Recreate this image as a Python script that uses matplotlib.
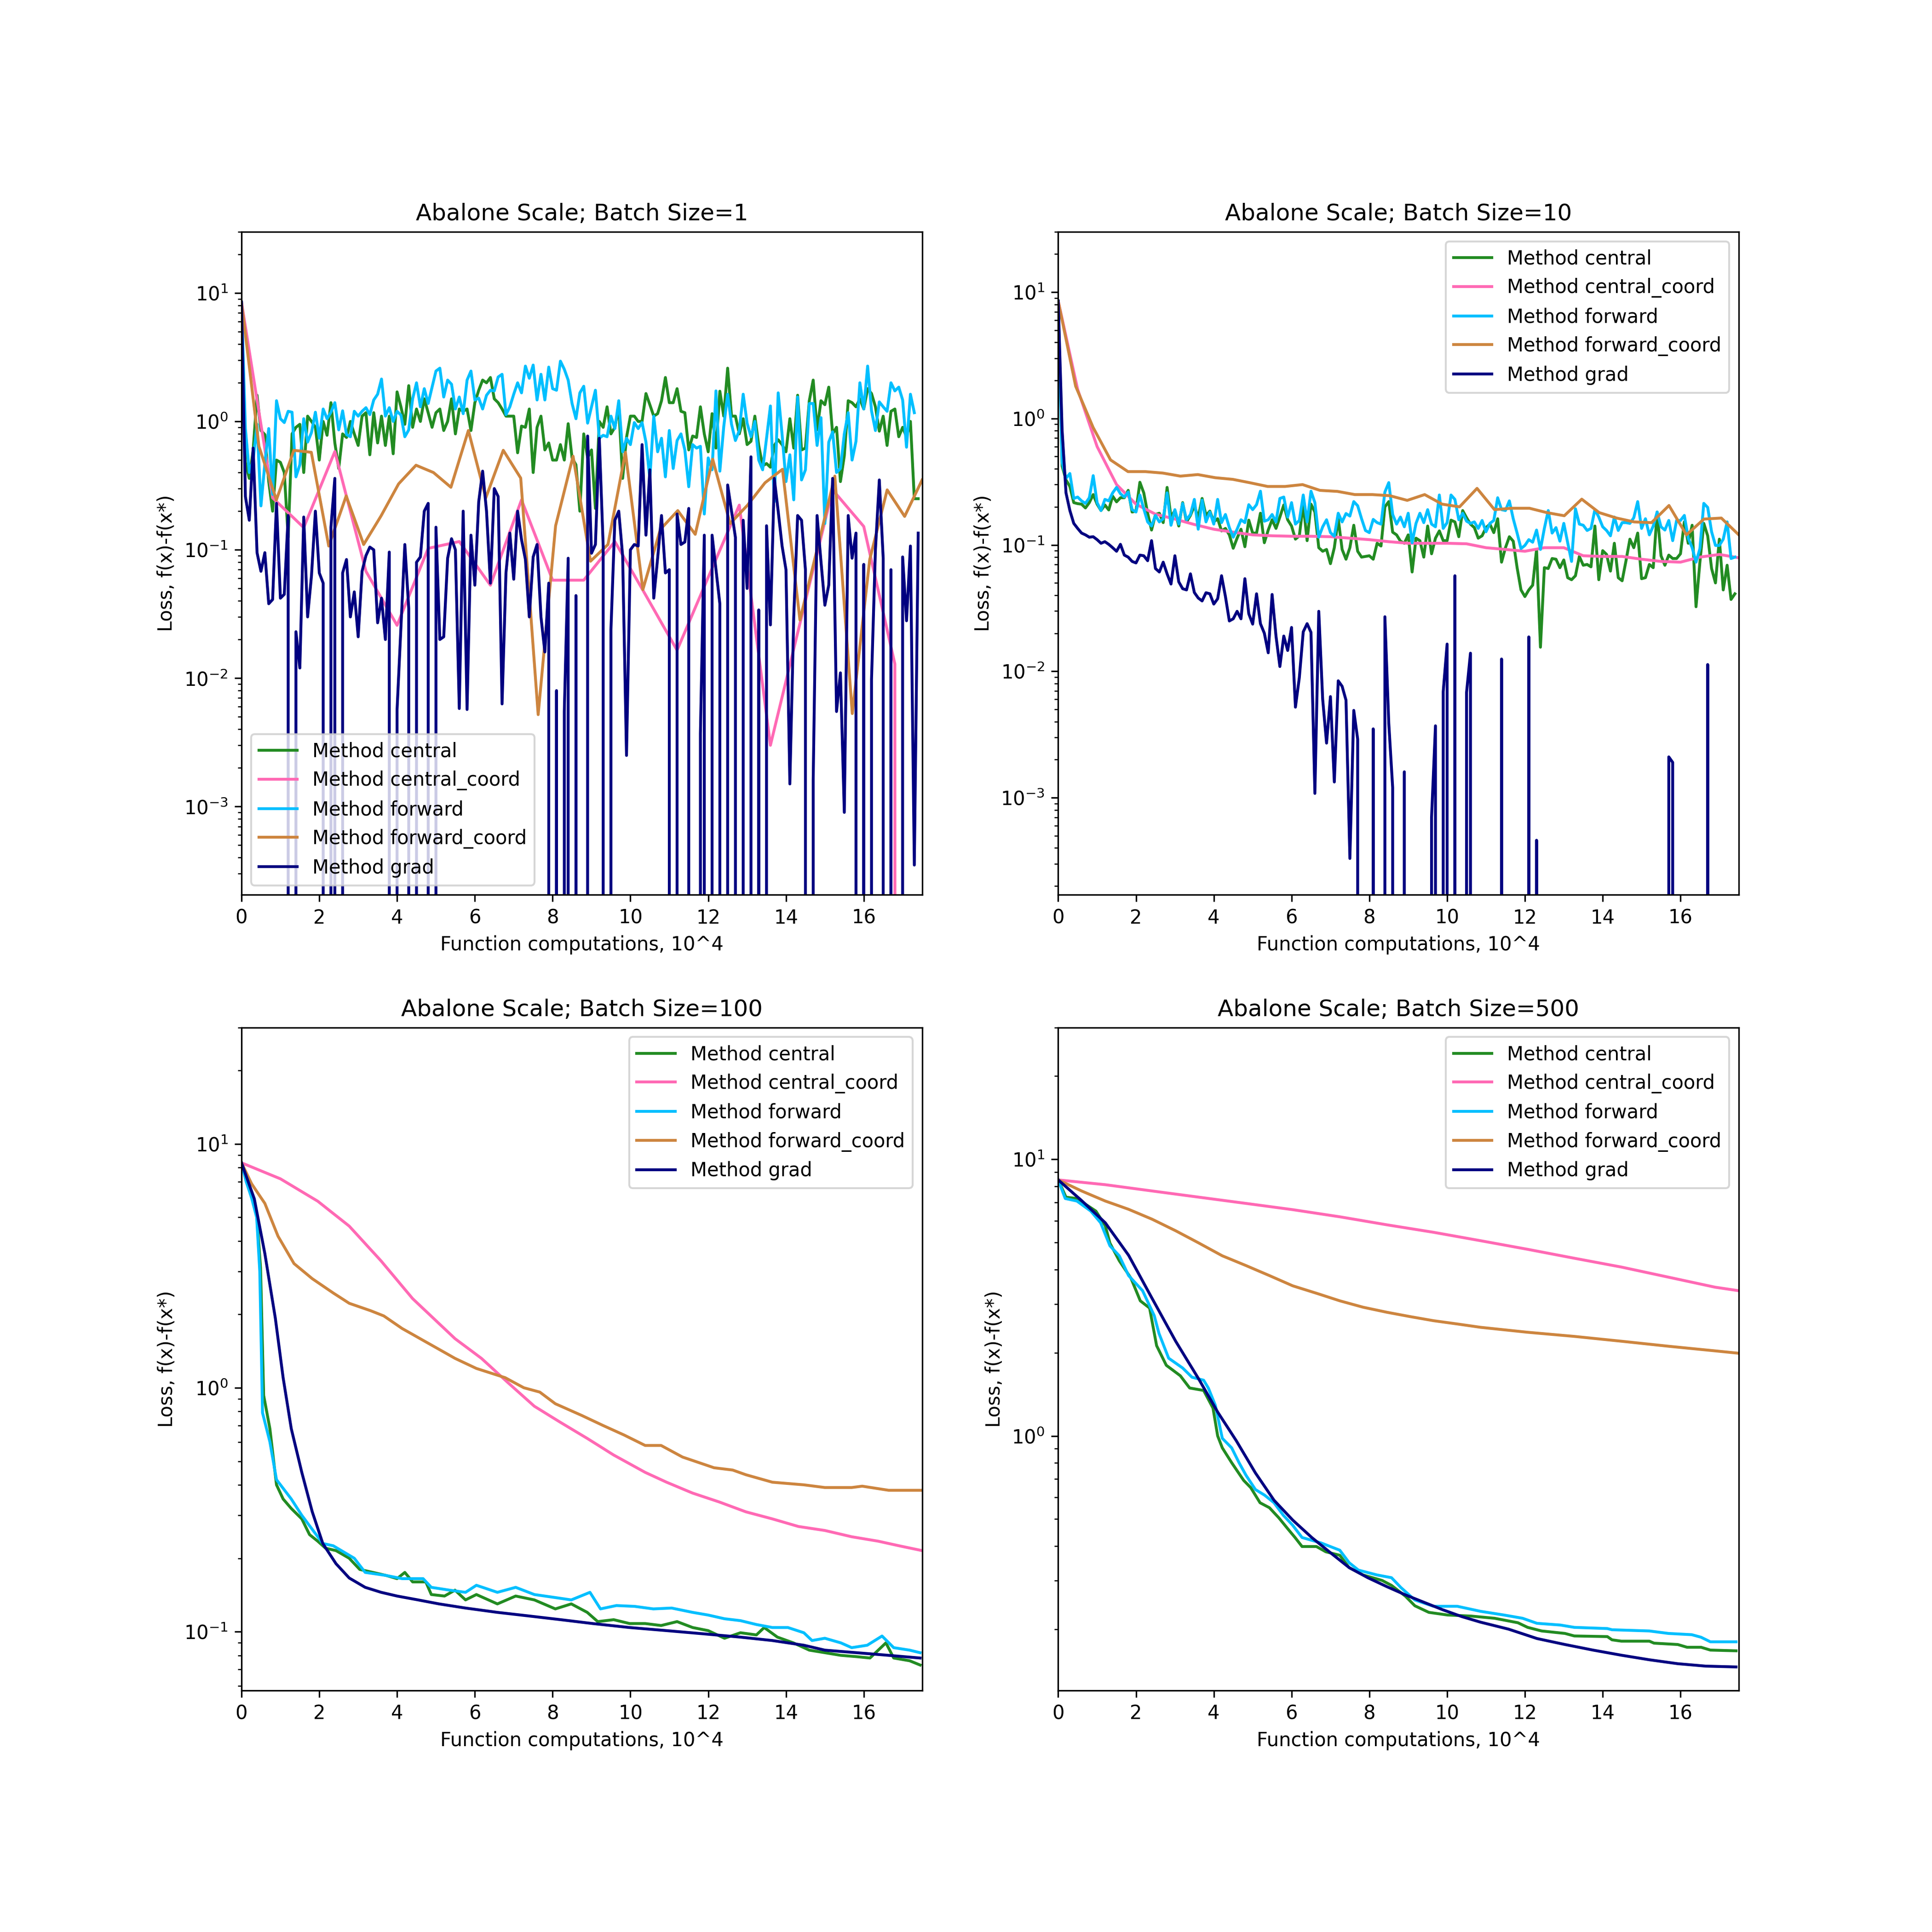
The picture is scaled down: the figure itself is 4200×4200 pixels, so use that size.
import numpy as np
import matplotlib
matplotlib.use("Agg")
import matplotlib.pyplot as plt

# method names and their colours
methods = ["central", "central_coord", "forward", "forward_coord", "grad"]
colors = {"central": "forestgreen", "central_coord": "hotpink",
          "forward": "deepskyblue", "forward_coord": "peru", "grad": "navy"}

STEP = 0.1  # x spacing (10^4 computations) of the per-iteration series

# ---------------- Batch Size = 1 ----------------
b1_central = [8.5, 0.48, 0.36, 0.6, 1.6, 0.85, 0.79, 0.34, 0.2, 0.5,
              0.48, 0.4, 0.125, 0.8, 0.9, 0.95, 0.4, 1.1, 1.0, 0.9,
              0.5, 1.0, 0.78, 1.4, 0.68, 0.43, 0.8, 0.75, 1.0, 0.8,
              0.65, 1.1, 1.17, 0.55, 1.17, 0.68, 1.1, 0.65, 1.1, 0.56,
              1.7, 1.3, 0.95, 1.9, 0.9, 1.25, 1.0, 1.5, 1.17, 0.9,
              1.17, 1.25, 0.85, 1.0, 1.5, 0.8, 1.25, 1.2, 1.25, 0.85,
              1.4, 1.75, 2.1, 2.0, 2.2, 1.5, 1.4, 1.25, 1.1, 1.1,
              1.1, 0.57, 0.92, 0.9, 1.25, 0.4, 0.9, 1.1, 0.6, 0.68,
              0.5, 0.5, 0.66, 0.5, 0.96, 0.52, 0.46, 0.2, 0.8,
              0.52, 0.6, 0.21, 1.0, 0.9, 1.3, 0.8, 0.9, 1.3, 0.36,
              0.75, 1.1, 1.1, 1.0, 1.0, 1.65, 1.35, 1.1, 1.15, 1.45,
              2.2, 1.4, 1.4, 1.8, 1.2, 1.17, 0.6, 0.77, 0.75, 1.3,
              0.8, 0.58, 1.15, 0.62, 1.72, 1.1, 2.6, 1.1, 1.1, 0.8,
              1.05, 0.66, 0.7, 1.1, 0.65, 0.45, 0.47, 0.44, 0.65, 0.72,
              0.66, 0.58, 1.05, 0.62, 1.6, 0.6, 0.62, 1.45, 2.1, 0.86,
              1.45, 1.35, 1.85, 0.8, 0.9, 0.34, 0.54, 1.45, 1.4, 1.3,
              1.5, 1.25, 1.8, 1.65, 1.3, 0.84, 1.1, 0.65, 1.2, 1.25,
              0.76, 0.9, 0.76, 1.0, 0.25, 0.25]
b1_forward = [8.5, 0.88, 0.4, 0.5, 0.95, 0.22, 0.47, 0.88, 0.27, 1.45,
              1.05, 0.98, 1.2, 1.18, 0.37, 0.46, 1.05, 0.69, 0.82, 1.18,
              0.74, 1.25, 1.05, 1.18, 1.4, 0.86, 1.21, 0.79, 0.76, 1.2,
              1.1, 1.2, 1.28, 1.13, 1.47, 1.63, 2.14, 1.1, 1.28, 1.0,
              1.2, 1.12, 0.76, 0.86, 1.5, 2.0, 1.3, 1.8, 1.38, 1.85,
              2.47, 2.6, 1.55, 2.1, 1.95, 1.25, 1.55, 1.15, 2.1, 2.47,
              1.47, 1.52, 1.25, 1.6, 1.75, 1.73, 2.22, 2.33, 1.13, 1.3,
              1.63, 2.0, 1.67, 2.7, 2.17, 2.75, 1.47, 2.33, 1.47, 2.65,
              1.8, 1.75, 2.95, 2.55, 2.1, 1.38, 1.05, 1.67, 1.88,
              0.97, 1.3, 1.75, 0.74, 0.78, 0.76, 1.1, 0.88, 1.45, 0.58,
              0.74, 0.66, 0.98, 0.88, 0.98, 0.69, 0.36, 1.1, 0.58, 0.74,
              0.37, 0.85, 0.43, 0.71, 0.8, 0.6, 0.31, 0.66, 0.62, 0.64,
              0.19, 0.52, 0.42, 1.73, 0.41, 0.91, 1.63, 0.95, 0.71, 0.85,
              1.63, 0.97, 0.76, 1.0, 0.5, 0.42, 0.74, 1.32, 0.237, 1.67,
              0.79, 0.34, 0.55, 0.245, 1.55, 0.35, 0.42, 1.38, 1.38, 0.65,
              1.07, 0.16, 0.69, 0.83, 0.4, 0.43, 0.8, 1.17, 0.5, 0.7,
              2.0, 1.25, 2.7, 1.21, 0.85, 1.42, 1.3, 1.2, 2.0, 1.73,
              1.85, 1.47, 0.63, 1.63, 1.17]
b1_grad = [8.5, 0.26, 0.17, 0.62, 0.095, 0.068, 0.095, 0.038, 0.041, 0.23,
           0.042, 0.045, 0.185, 0, 0.023, 0.012, 0.18, 0.03, 0.063, 0.2,
           0.066, 0.055, 0, 0.15, 0.36, 0, 0.066, 0.084, 0.03, 0.047,
           0.021, 0.068, 0.09, 0.105, 0.1, 0.027, 0.042, 0.02, 0.096, 0,
           0.0057, 0.025, 0.11, 0.035, 0, 0.08, 0.088, 0.2, 0.23, 0,
           0.15, 0.02, 0.021, 0.086, 0.122, 0.1, 0.0058, 0.2, 0.0057, 0.13,
           0.053, 0.237, 0.41, 0.2, 0.055, 0.3, 0.26, 0.0063, 0.066, 0.135,
           0.059, 0.2, 0.12, 0.084, 0.03, 0.088, 0.11, 0.03, 0.016, 0.055,
           0, 0.008, 0, 0.0055, 0.086, 0, 0.044, 0, 0, 0.77,
           0.094, 0.11, 0.74, 0.107, 0, 0.024, 0.17, 0.2, 0.09, 0.0025,
           0.1, 0.11, 0.107, 0.66, 0.13, 0.42, 0.042, 0.086, 0.185, 0.066,
           0.07, 0, 0.19, 0.11, 0.115, 0.21, 0, 0, 0.0037, 0.13,
           0, 0.13, 0.07, 0.038, 0, 0.32, 0.2, 0.125, 0, 0.17,
           0.05, 0.53, 0, 0.034, 0, 0.154, 0.026, 0.36, 0.2, 0.107,
           0.07, 0.0015, 0.03, 0.185, 0.17, 0.07, 0, 0.0016, 0.185, 0.081,
           0.037, 0.053, 0.36, 0.0055, 0.011, 0.0009, 0.185, 0.086, 0.135, 0,
           0.077, 0, 0.0098, 0.1, 0.35, 0.086, 0, 0.07, 0, 0,
           0.088, 0.028, 0.107, 0.00035, 0.135]
b1_central_coord = [8.5, 0.254, 0.149, 0.583, 0.068, 0.0258, 0.1026, 0.116,
                    0.053, 0.245, 0.058, 0.058, 0.116, 0.044, 0.0165, 0.061,
                    0.223, 0.003, 0.03, 0.293, 0.152, 0.0129, 0.0]
b1_central_coord_dx = 0.8
b1_forward_coord = [8.5, 0.64, 0.245, 0.596, 0.575, 0.107, 0.263, 0.11, 0.184, 0.326,
                    0.456, 0.40, 0.307, 0.85, 0.254, 0.596, 0.362, 0.0052, 0.154, 0.536,
                    0.0815, 0.11, 0.575, 0.049, 0.144, 0.202, 0.132, 0.508, 0.16, 0.223,
                    0.333, 0.424, 0.0284, 0.103, 0.375, 0.0053, 0.084, 0.293, 0.182, 0.35]

# ---------------- Batch Size = 10 ----------------
b10_central = [8.5, 0.42, 0.327, 0.29, 0.216, 0.212, 0.21, 0.196, 0.216, 0.25,
               0.21, 0.187, 0.207, 0.189, 0.243, 0.219, 0.236, 0.236, 0.27, 0.182,
               0.185, 0.313, 0.258, 0.178, 0.131, 0.174, 0.178, 0.15, 0.285, 0.166,
               0.187, 0.141, 0.216, 0.152, 0.171, 0.204, 0.164, 0.233, 0.171, 0.185,
               0.152, 0.161, 0.129, 0.135, 0.12, 0.094, 0.113, 0.133, 0.0967, 0.157,
               0.124, 0.124, 0.178, 0.104, 0.131, 0.158, 0.135, 0.166, 0.207, 0.158,
               0.141, 0.111, 0.118, 0.21, 0.108, 0.21, 0.182, 0.095, 0.089, 0.092,
               0.071, 0.095, 0.161, 0.092, 0.077, 0.095, 0.143, 0.089, 0.08, 0.081,
               0.082, 0.077, 0.103, 0.098, 0.2, 0.22, 0.126, 0.12, 0.107,
               0.103, 0.12, 0.061, 0.113, 0.108, 0.08, 0.141, 0.085, 0.113, 0.129,
               0.108, 0.108, 0.157, 0.152, 0.116, 0.187, 0.164, 0.146, 0.137, 0.113,
               0.118, 0.137, 0.146, 0.125, 0.161, 0.073, 0.095, 0.116, 0.107, 0.066,
               0.044, 0.039, 0.044, 0.048, 0.092, 0.0155, 0.066, 0.065, 0.078, 0.077,
               0.066, 0.076, 0.055, 0.053, 0.057, 0.081, 0.069, 0.07, 0.067, 0.141,
               0.053, 0.09, 0.084, 0.062, 0.103, 0.055, 0.052, 0.075, 0.111, 0.095,
               0.124, 0.054, 0.055, 0.07, 0.066, 0.182, 0.082, 0.069, 0.083, 0.078,
               0.078, 0.085, 0.152, 0.103, 0.143, 0.0324, 0.073, 0.148, 0.118, 0.065,
               0.05, 0.111, 0.044, 0.069, 0.037, 0.041]
b10_forward = [8.5, 0.45, 0.336, 0.367, 0.233, 0.239, 0.223, 0.213, 0.236, 0.353,
               0.216, 0.187, 0.229, 0.223, 0.258, 0.285, 0.254, 0.239, 0.262, 0.19,
               0.182, 0.248, 0.193, 0.152, 0.141, 0.171, 0.152, 0.161, 0.258, 0.143,
               0.19, 0.146, 0.213, 0.158, 0.174, 0.229, 0.133, 0.226, 0.152, 0.182,
               0.146, 0.229, 0.15, 0.174, 0.137, 0.115, 0.133, 0.158, 0.15, 0.208,
               0.19, 0.208, 0.266, 0.154, 0.158, 0.174, 0.152, 0.233, 0.239, 0.166,
               0.216, 0.146, 0.156, 0.248, 0.152, 0.266, 0.216, 0.115, 0.139, 0.158,
               0.125, 0.117, 0.178, 0.152, 0.177, 0.169, 0.22, 0.204, 0.161, 0.13,
               0.125, 0.159, 0.15, 0.146, 0.262, 0.311, 0.174, 0.146, 0.166,
               0.139, 0.178, 0.104, 0.148, 0.178, 0.15, 0.19, 0.146, 0.139, 0.248,
               0.135, 0.15, 0.248, 0.229, 0.158, 0.178, 0.154, 0.148, 0.152, 0.135,
               0.156, 0.127, 0.148, 0.156, 0.236, 0.19, 0.187, 0.223, 0.161, 0.124,
               0.0935, 0.099, 0.11, 0.105, 0.131, 0.092, 0.135, 0.187, 0.124, 0.137,
               0.107, 0.148, 0.104, 0.074, 0.193, 0.146, 0.143, 0.13, 0.135, 0.19,
               0.166, 0.139, 0.13, 0.118, 0.166, 0.13, 0.15, 0.15, 0.148, 0.164,
               0.22, 0.135, 0.161, 0.12, 0.141, 0.182, 0.139, 0.131, 0.156, 0.108,
               0.156, 0.156, 0.171, 0.113, 0.095, 0.073, 0.0935, 0.213, 0.198, 0.127,
               0.099, 0.099, 0.111, 0.152, 0.078, 0.08]
b10_grad = [8.5, 0.81, 0.258, 0.187, 0.148, 0.135, 0.124, 0.12, 0.115, 0.116,
            0.11, 0.103, 0.106, 0.101, 0.095, 0.089, 0.101, 0.083, 0.08, 0.074,
            0.072, 0.083, 0.082, 0.075, 0.108, 0.065, 0.061, 0.073, 0.059, 0.049,
            0.082, 0.051, 0.045, 0.044, 0.059, 0.042, 0.038, 0.036, 0.0418, 0.041,
            0.034, 0.0375, 0.057, 0.039, 0.025, 0.026, 0.0298, 0.026, 0.054, 0.0285,
            0.0236, 0.041, 0.0238, 0.02, 0.014, 0.0405, 0.019, 0.0109, 0.019, 0.0146,
            0.0222, 0.0052, 0.0089, 0.0205, 0.0238, 0.0203, 0.00108, 0.0298, 0.006, 0.0027,
            0.0063, 0.00133, 0.0084, 0.0076, 0.0059, 0.00033, 0.0049, 0.0029, 0, 0,
            0, 0.0035, 0, 0, 0.027, 0.0039, 0.0012, 0, 0, 0.0016,
            0, 0, 0, 0, 0, 0, 0.0007, 0.0037, 0, 0.0069,
            0.0164, 0, 0.057, 0, 0, 0.0068, 0.0139, 0, 0, 0,
            0, 0, 0, 0, 0.0125, 0, 0, 0, 0, 0,
            0, 0.0187, 0, 0.00046, 0, 0, 0, 0, 0, 0,
            0, 0, 0, 0, 0, 0, 0, 0, 0, 0,
            0, 0, 0, 0, 0, 0, 0, 0, 0, 0,
            0, 0, 0, 0, 0, 0, 0, 0.0021, 0.0019, 0,
            0, 0, 0, 0, 0, 0, 0, 0.0113, 0, 0,
            0, 0, 0, 0, 0, 0]
b10_central_coord = [8.5, 1.7, 0.6, 0.3, 0.21, 0.175, 0.16, 0.145, 0.133, 0.126,
                     0.12, 0.118, 0.117, 0.117, 0.116, 0.113, 0.11, 0.106, 0.103, 0.103,
                     0.103, 0.102, 0.095, 0.092, 0.089, 0.095, 0.095, 0.082, 0.081, 0.081,
                     0.077, 0.074, 0.073, 0.08, 0.084, 0.079]
b10_forward_coord = [8.5, 1.8, 0.85, 0.47, 0.38, 0.38, 0.37, 0.35, 0.36, 0.34,
                     0.33, 0.31, 0.29, 0.29, 0.30, 0.27, 0.265, 0.25, 0.25, 0.245,
                     0.225, 0.25, 0.21, 0.2, 0.28, 0.19, 0.195, 0.195, 0.18, 0.17,
                     0.23, 0.18, 0.163, 0.152, 0.15, 0.205, 0.12, 0.16, 0.163, 0.12]

# ---------------- Batch Size = 100 ----------------
b100_central_x = [0, 0.12, 0.26, 0.39, 0.49, 0.57, 0.73, 0.9, 1.07, 1.28,
                  1.55, 1.75, 1.96, 2.16, 2.43, 2.77, 3.04, 3.38, 3.72, 4.0,
                  4.2, 4.4, 4.74, 4.88, 5.22, 5.49, 5.76, 6.04, 6.58, 7.05,
                  7.53, 8.07, 8.48, 8.89, 9.16, 9.57, 9.98, 10.38, 10.79, 11.2,
                  11.6, 12.0, 12.42, 12.83, 13.24, 13.44, 13.78, 14.19, 14.6, 15.0,
                  15.41, 15.82, 16.16, 16.57, 16.77, 17.18, 17.45]
b100_central_y = [8.36, 7.2, 6.2, 5.2, 3.1, 0.93, 0.68, 0.4, 0.35, 0.32,
                  0.29, 0.25, 0.235, 0.22, 0.215, 0.2, 0.18, 0.175, 0.17, 0.165,
                  0.175, 0.16, 0.16, 0.142, 0.14, 0.148, 0.135, 0.142, 0.13, 0.14,
                  0.135, 0.124, 0.13, 0.12, 0.11, 0.112, 0.108, 0.108, 0.106, 0.11,
                  0.104, 0.101, 0.094, 0.099, 0.097, 0.104, 0.095, 0.09, 0.084, 0.082,
                  0.08, 0.079, 0.078, 0.09, 0.078, 0.076, 0.073]
b100_forward_x = [0, 0.12, 0.26, 0.39, 0.47, 0.54, 0.73, 0.9, 1.28, 1.55,
                  2.09, 2.36, 2.9, 3.18, 3.72, 4.13, 4.67, 4.88, 5.35, 5.76,
                  6.04, 6.58, 7.05, 7.53, 8.07, 8.48, 8.96, 9.23, 9.64, 10.11,
                  10.59, 11.06, 11.6, 12.0, 12.42, 12.83, 13.24, 13.65, 14.05, 14.46,
                  14.67, 15.0, 15.41, 15.69, 16.09, 16.47, 16.77, 17.18, 17.45]
b100_forward_y = [8.36, 7.0, 6.0, 5.0, 3.0, 0.79, 0.6, 0.42, 0.35, 0.3,
                  0.23, 0.225, 0.2, 0.175, 0.17, 0.165, 0.165, 0.152, 0.148, 0.145,
                  0.155, 0.145, 0.152, 0.142, 0.138, 0.135, 0.145, 0.124, 0.128, 0.127,
                  0.124, 0.125, 0.12, 0.117, 0.113, 0.111, 0.107, 0.104, 0.104, 0.099,
                  0.092, 0.094, 0.09, 0.086, 0.088, 0.096, 0.086, 0.084, 0.082]
b100_grad_x = [0, 0.33, 0.6, 0.87, 1.07, 1.28, 1.55, 1.82, 2.09, 2.43,
               2.77, 3.18, 3.59, 4.0, 4.54, 5.08, 5.76, 6.58, 7.39, 8.21,
               9.03, 9.98, 10.93, 11.88, 12.83, 13.65, 14.46, 15.0, 15.82, 16.64,
               17.45]
b100_grad_y = [8.36, 5.95, 3.55, 1.93, 1.1, 0.68, 0.45, 0.31, 0.23, 0.19,
               0.166, 0.152, 0.145, 0.14, 0.135, 0.13, 0.125, 0.12, 0.116, 0.112,
               0.108, 0.104, 0.101, 0.098, 0.095, 0.092, 0.088, 0.084, 0.082, 0.08,
               0.078]
b100_central_coord_x = [0, 1.0, 1.96, 2.77, 3.59, 4.40, 5.49, 6.17, 6.85, 7.53,
                        8.21, 8.89, 9.57, 10.38, 10.93, 11.6, 12.29, 12.97, 13.65, 14.32,
                        15.0, 15.69, 16.37, 16.91, 17.5]
b100_central_coord_y = [8.36, 7.19, 5.82, 4.6, 3.31, 2.32, 1.59, 1.32, 1.05, 0.84,
                        0.72, 0.62, 0.53, 0.45, 0.41, 0.37, 0.34, 0.31, 0.29, 0.27,
                        0.26, 0.245, 0.235, 0.225, 0.215]
b100_forward_coord_x = [0, 0.26, 0.6, 0.94, 1.35, 1.82, 2.37, 2.77, 3.32, 3.66,
                        4.13, 4.81, 5.49, 6.04, 6.78, 7.26, 7.67, 8.07, 8.75, 9.3,
                        9.84, 10.38, 10.79, 11.34, 12.15, 12.63, 12.97, 13.65, 14.46, 15.0,
                        15.69, 15.96, 16.64, 17.5]
b100_forward_coord_y = [8.36, 6.86, 5.7, 4.18, 3.23, 2.8, 2.44, 2.22, 2.07, 1.97,
                        1.75, 1.52, 1.32, 1.2, 1.1, 1.0, 0.96, 0.86, 0.77, 0.7,
                        0.64, 0.58, 0.58, 0.52, 0.47, 0.46, 0.44, 0.41, 0.40, 0.39,
                        0.39, 0.395, 0.38, 0.38]

# ---------------- Batch Size = 500 ----------------
b500_central_x = [0, 0.2, 0.48, 0.97, 1.21, 1.33, 1.57, 1.87, 2.11, 2.35,
                  2.53, 2.78, 3.14, 3.38, 3.74, 3.98, 4.1, 4.22, 4.46, 4.77,
                  4.95, 5.19, 5.43, 5.67, 5.91, 6.09, 6.27, 6.64, 6.88, 7.24,
                  7.48, 7.84, 8.33, 8.57, 8.93, 9.17, 9.53, 10.01, 10.62, 11.22,
                  11.82, 12.07, 12.43, 13.03, 13.27, 14.12, 14.24, 14.48, 15.2, 15.32,
                  15.93, 16.17, 16.53, 16.77, 17.43]
b500_central_y = [8.43, 7.3, 7.22, 6.5, 5.76, 4.98, 4.3, 3.72, 3.08, 2.9,
                  2.12, 1.8, 1.65, 1.49, 1.46, 1.26, 1.0, 0.905, 0.8, 0.69,
                  0.65, 0.573, 0.55, 0.506, 0.46, 0.429, 0.398, 0.398, 0.381, 0.37,
                  0.334, 0.314, 0.3, 0.288, 0.263, 0.243, 0.23, 0.225, 0.223, 0.219,
                  0.211, 0.203, 0.197, 0.193, 0.189, 0.188, 0.183, 0.181, 0.181, 0.178,
                  0.176, 0.172, 0.172, 0.168, 0.167]
b500_forward_x = [0, 0.18, 0.48, 0.84, 1.09, 1.33, 1.57, 1.81, 2.17, 2.47,
                  2.59, 2.84, 3.2, 3.44, 3.74, 3.86, 4.04, 4.22, 4.46, 4.65,
                  4.83, 5.07, 5.31, 5.55, 5.79, 6.03, 6.27, 6.76, 7.24, 7.48,
                  7.72, 8.2, 8.57, 8.81, 9.17, 9.65, 10.26, 10.86, 11.46, 11.94,
                  12.31, 12.91, 13.27, 14.12, 14.24, 15.2, 15.69, 16.29, 16.53, 16.77,
                  17.43]
b500_forward_y = [8.43, 7.22, 7.07, 6.5, 5.9, 4.87, 4.48, 3.8, 3.35, 2.72,
                  2.35, 1.91, 1.76, 1.63, 1.59, 1.49, 1.29, 0.98, 0.905, 0.8,
                  0.72, 0.64, 0.61, 0.573, 0.516, 0.475, 0.429, 0.41, 0.386, 0.348,
                  0.327, 0.314, 0.307, 0.283, 0.255, 0.242, 0.242, 0.232, 0.225, 0.219,
                  0.21, 0.207, 0.203, 0.201, 0.199, 0.197, 0.193, 0.191, 0.187, 0.18,
                  0.18]
b500_grad_x = [0, 0.6, 1.21, 1.81, 2.41, 3.02, 3.62, 4.1, 4.58, 5.07,
               5.55, 6.03, 6.52, 7.0, 7.48, 7.96, 8.45, 8.93, 9.41, 9.89,
               10.38, 10.86, 11.58, 12.31, 13.03, 13.75, 14.48, 15.2, 15.93, 16.65,
               17.43]
b500_grad_y = [8.43, 7.1, 5.9, 4.5, 3.15, 2.2, 1.6, 1.22, 0.96, 0.735,
               0.585, 0.496, 0.429, 0.378, 0.334, 0.307, 0.285, 0.266, 0.25, 0.235,
               0.222, 0.212, 0.2, 0.185, 0.176, 0.168, 0.161, 0.155, 0.15, 0.147,
               0.146]
b500_central_coord_x = [0, 1.21, 2.41, 3.62, 4.83, 6.03, 7.24, 8.45, 9.65, 10.86,
                        12.07, 13.27, 14.48, 15.69, 16.89, 17.5]
b500_central_coord_y = [8.43, 8.1, 7.69, 7.3, 6.93, 6.58, 6.2, 5.8, 5.45, 5.08,
                        4.73, 4.39, 4.08, 3.75, 3.45, 3.35]
b500_forward_coord_x = [0, 0.6, 1.21, 1.81, 2.41, 3.02, 3.62, 4.22, 4.83, 5.43,
                        6.03, 6.64, 7.24, 7.84, 8.45, 9.05, 9.65, 10.26, 10.86, 12.07,
                        13.27, 14.48, 15.69, 16.89, 17.5]
b500_forward_coord_y = [8.43, 7.69, 7.07, 6.6, 6.08, 5.52, 4.98, 4.48, 4.13, 3.8,
                        3.49, 3.28, 3.08, 2.92, 2.8, 2.7, 2.61, 2.54, 2.47, 2.37,
                        2.29, 2.2, 2.11, 2.03, 1.99]


def per_iter(vals, dx=STEP):
    # x positions for series logged at a fixed computation spacing
    return np.arange(len(vals)) * dx


panels = [
    {"batch": 1, "ylim": (2.05e-4, 30), "loc": "lower left",
     "series": {
         "central": (per_iter(b1_central), b1_central),
         "central_coord": (per_iter(b1_central_coord, b1_central_coord_dx), b1_central_coord),
         "forward": (per_iter(b1_forward), b1_forward),
         "forward_coord": (np.linspace(0, 17.5, len(b1_forward_coord)), b1_forward_coord),
         "grad": (per_iter(b1_grad), b1_grad)}},
    {"batch": 10, "ylim": (1.7e-4, 30), "loc": "upper right",
     "series": {
         "central": (per_iter(b10_central), b10_central),
         "central_coord": (np.linspace(0, 17.5, len(b10_central_coord)), b10_central_coord),
         "forward": (per_iter(b10_forward), b10_forward),
         "forward_coord": (np.linspace(0, 17.5, len(b10_forward_coord)), b10_forward_coord),
         "grad": (per_iter(b10_grad), b10_grad)}},
    {"batch": 100, "ylim": (0.0574, 30), "loc": "upper right",
     "series": {
         "central": (b100_central_x, b100_central_y),
         "central_coord": (b100_central_coord_x, b100_central_coord_y),
         "forward": (b100_forward_x, b100_forward_y),
         "forward_coord": (b100_forward_coord_x, b100_forward_coord_y),
         "grad": (b100_grad_x, b100_grad_y)}},
    {"batch": 500, "ylim": (0.120, 30), "loc": "upper right",
     "series": {
         "central": (b500_central_x, b500_central_y),
         "central_coord": (b500_central_coord_x, b500_central_coord_y),
         "forward": (b500_forward_x, b500_forward_y),
         "forward_coord": (b500_forward_coord_x, b500_forward_coord_y),
         "grad": (b500_grad_x, b500_grad_y)}},
]

fig, axes = plt.subplots(2, 2, figsize=(14, 14))
plt.subplots_adjust(left=0.125, right=0.9, bottom=0.125, top=0.88, wspace=0.2, hspace=0.2)

for ax, p in zip(axes.flat, panels):
    for m in methods:
        x, y = p["series"][m]
        ax.plot(x, y, color=colors[m], label="Method " + m)
    ax.set_yscale("log")
    ax.set_xlim(0, 17.5)
    ax.set_ylim(*p["ylim"])
    ax.set_xticks(np.arange(0, 17, 2))
    ax.set_xlabel("Function computations, 10^4")
    ax.set_ylabel("Loss, f(x)-f(x*)")
    ax.set_title("Abalone Scale; Batch Size=" + str(p["batch"]))
    ax.legend(loc=p["loc"])

plt.savefig("out.png", dpi=300)
